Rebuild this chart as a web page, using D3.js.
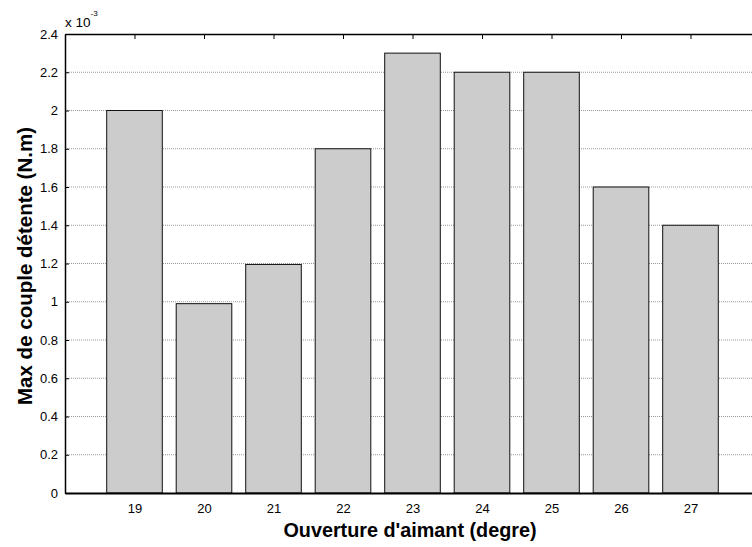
<!DOCTYPE html>
<html>
<head>
<meta charset="utf-8">
<script src="https://cdn.jsdelivr.net/npm/d3@7"></script>
<style>
  html, body { margin: 0; padding: 0; background: #fff; }
  svg { display: block; font-family: "Liberation Sans", Arial, sans-serif; }
</style>
</head>
<body>
<svg id="chart" width="752" height="547"></svg>
<script>
// Magnet opening (degrees) and peak cogging torque (x 1e-3 N.m)
const categories = [19, 20, 21, 22, 23, 24, 25, 26, 27];
const torqueValues = [2.0, 0.99, 1.195, 1.8, 2.3, 2.2, 2.2, 1.6, 1.4];
const yTicks = [0, 0.2, 0.4, 0.6, 0.8, 1, 1.2, 1.4, 1.6, 1.8, 2, 2.2, 2.4];
const yTickLabels = ["0", "0.2", "0.4", "0.6", "0.8", "1", "1.2", "1.4", "1.6", "1.8", "2", "2.2", "2.4"];

const svg = d3.select("#chart");
const margin = { left: 65, top: 34, bottom: 493 };
const plotRight = 760;
const font = "Liberation Sans, Arial, sans-serif";

const x = d3.scaleLinear().domain([18, 28]).range([margin.left, plotRight]);
const y = d3.scaleLinear().domain([0, 2.4]).range([margin.bottom, margin.top]);
const barWidth = (x(1) - x(0)) * 0.8;

// horizontal grid
svg.append("g")
  .selectAll("line")
  .data(yTicks.slice(1, -1))
  .join("line")
  .attr("x1", margin.left).attr("x2", plotRight)
  .attr("y1", d => y(d)).attr("y2", d => y(d))
  .attr("stroke", "#999")
  .attr("stroke-width", 1)
  .attr("stroke-dasharray", "1,1");

// bars
svg.append("g")
  .selectAll("rect")
  .data(categories.map((c, i) => ({ c, v: torqueValues[i] })))
  .join("rect")
  .attr("x", d => x(d.c) - barWidth / 2)
  .attr("y", d => y(d.v))
  .attr("width", barWidth)
  .attr("height", d => y(0) - y(d.v))
  .attr("fill", "#cccccc")
  .attr("stroke", "#111")
  .attr("stroke-width", 1);

// left axis
const yAxis = d3.axisLeft(y)
  .tickValues(yTicks)
  .tickFormat((d, i) => yTickLabels[i])
  .tickSizeInner(-4)
  .tickSizeOuter(0)
  .tickPadding(7);
const gy = svg.append("g")
  .attr("transform", `translate(${margin.left},0)`)
  .call(yAxis);
gy.select(".domain").attr("stroke", "#000").attr("stroke-width", 1.5);
gy.selectAll(".tick line").attr("stroke", "#000");
gy.selectAll(".tick text").attr("font-size", 13).attr("fill", "#000")
  .attr("font-family", font);

// bottom axis
const xAxis = d3.axisBottom(x)
  .tickValues(categories)
  .tickFormat(d3.format("d"))
  .tickSizeInner(0)
  .tickSizeOuter(0)
  .tickPadding(11);
const gx = svg.append("g")
  .attr("transform", `translate(0,${margin.bottom})`)
  .call(xAxis);
gx.select(".domain").attr("stroke", "#000").attr("stroke-width", 2);
gx.selectAll(".tick text").attr("font-size", 13).attr("fill", "#000")
  .attr("font-family", font);

// top axis with inward ticks
const topAxis = d3.axisTop(x)
  .tickValues(categories)
  .tickFormat("")
  .tickSizeInner(-5)
  .tickSizeOuter(0);
const gt = svg.append("g")
  .attr("transform", `translate(0,${margin.top})`)
  .call(topAxis);
gt.select(".domain").attr("stroke", "#000").attr("stroke-width", 1.5);
gt.selectAll(".tick line").attr("stroke", "#000");

// exponent label
const expo = svg.append("text")
  .attr("x", margin.left)
  .attr("y", 27)
  .attr("font-size", 13.5)
  .attr("font-family", font)
  .attr("fill", "#000");
expo.append("tspan").text("x 10");
expo.append("tspan").attr("dy", -11).attr("font-size", 8).text("-3");

// axis titles
svg.append("text")
  .attr("x", 410)
  .attr("y", 537)
  .attr("text-anchor", "middle")
  .attr("font-size", 19.8)
  .attr("font-weight", "bold")
  .attr("font-family", font)
  .attr("fill", "#000")
  .text("Ouverture d'aimant (degre)");

svg.append("text")
  .attr("transform", `translate(32,266) rotate(-90)`)
  .attr("text-anchor", "middle")
  .attr("font-size", 20.5)
  .attr("font-weight", "bold")
  .attr("font-family", font)
  .attr("fill", "#000")
  .text("Max de couple détente (N.m)");
</script>
</body>
</html>
